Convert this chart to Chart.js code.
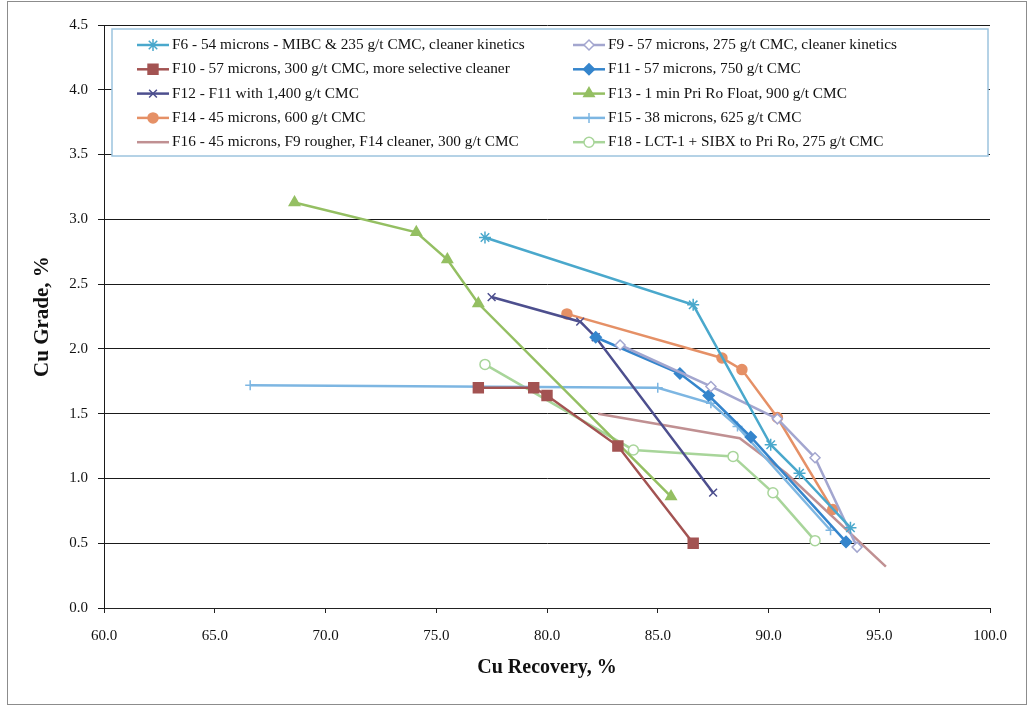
<!DOCTYPE html>
<html>
<head>
<meta charset="utf-8">
<script src="https://cdn.jsdelivr.net/npm/chart.js@4"></script>
<style>
  html, body { margin: 0; padding: 0; background: #fff; }
  #grafico { display: block; }
</style>
</head>
<body>
<canvas id="grafico" width="1032" height="708"></canvas>
<script>
// tick values
const recoveryTicks = [60, 65, 70, 75, 80, 85, 90, 95, 100];
const gradeTicks = [0, 0.5, 1, 1.5, 2, 2.5, 3, 3.5, 4, 4.5];

// flotation tests: Cu recovery (%) vs Cu grade (%)
const testNames = [
  "F6 - 54 microns - MIBC & 235 g/t CMC, cleaner kinetics",
  "F9 - 57 microns, 275 g/t CMC, cleaner kinetics",
  "F10 - 57 microns, 300 g/t CMC, more selective cleaner",
  "F11 - 57 microns, 750 g/t CMC",
  "F12 - F11 with 1,400 g/t CMC",
  "F13 - 1 min Pri Ro Float, 900 g/t CMC",
  "F14 - 45 microns, 600 g/t CMC",
  "F15 - 38 microns, 625 g/t CMC",
  "F16 - 45 microns, F9 rougher, F14 cleaner, 300 g/t CMC",
  "F18 - LCT-1 + SIBX to Pri Ro, 275 g/t CMC"
];

const f6Recovery = [77.2, 86.6, 90.1, 91.4, 93.7];
const f6Grade = [2.86, 2.34, 1.26, 1.04, 0.62];
const f9Recovery = [83.3, 87.4, 90.4, 92.1, 94.0];
const f9Grade = [2.03, 1.71, 1.46, 1.16, 0.47];
const f10Recovery = [76.9, 79.4, 80.0, 83.2, 86.6];
const f10Grade = [1.70, 1.70, 1.64, 1.25, 0.50];
const f11Recovery = [82.2, 86.0, 87.3, 89.2, 93.5];
const f11Grade = [2.09, 1.81, 1.64, 1.32, 0.51];
const f12Recovery = [77.5, 81.5, 82.2, 87.5];
const f12Grade = [2.40, 2.21, 2.09, 0.89];
const f13Recovery = [68.6, 74.1, 75.5, 76.9, 85.6];
const f13Grade = [3.13, 2.90, 2.69, 2.35, 0.86];
const f14Recovery = [80.9, 87.9, 88.8, 90.4, 92.9];
const f14Grade = [2.27, 1.93, 1.84, 1.47, 0.76];
const f15Recovery = [66.6, 85.0, 87.4, 88.6, 92.8];
const f15Grade = [1.72, 1.70, 1.58, 1.40, 0.60];
const f16Recovery = [82.3, 88.7, 90.8, 95.3];
const f16Grade = [1.50, 1.31, 1.04, 0.32];
const f18Recovery = [77.2, 83.9, 88.4, 90.2, 92.1];
const f18Grade = [1.88, 1.22, 1.17, 0.89, 0.52];

const serif = "'Liberation Serif', 'Times New Roman', serif";

function pontos(rec, grade) {
  return rec.map((r, i) => ({ x: r, y: grade[i] }));
}

function serie(i, rec, grade, cor, estilo, raio, fill) {
  return {
    label: testNames[i],
    data: pontos(rec, grade),
    showLine: true,
    borderColor: cor,
    backgroundColor: cor,
    borderWidth: 2.5,
    tension: 0,
    pointStyle: estilo,
    pointRadius: raio,
    pointHoverRadius: raio,
    pointBackgroundColor: fill || cor,
    pointBorderColor: cor,
    pointBorderWidth: 1.5
  };
}

const datasets = [
  serie(0, f6Recovery, f6Grade, "#4AA8CC", "star", 6),
  serie(1, f9Recovery, f9Grade, "#A3A6CF", "rectRot", 5, "#fff"),
  serie(2, f10Recovery, f10Grade, "#A35352", "rect", 7),
  serie(3, f11Recovery, f11Grade, "#3585CC", "rectRot", 5.5),
  serie(4, f12Recovery, f12Grade, "#4D4F8E", "crossRot", 5.5),
  serie(5, f13Recovery, f13Grade, "#94BF62", "triangle", 6),
  serie(6, f14Recovery, f14Grade, "#E59066", "circle", 5),
  serie(7, f15Recovery, f15Grade, "#7DB6E2", "cross", 5),
  serie(8, f16Recovery, f16Grade, "#C09092", "circle", 0),
  serie(9, f18Recovery, f18Grade, "#A8D59A", "circle", 5, "#fff")
];

// legend box drawn over the top of the plot area
const legendaInterna = {
  id: "legendaInterna",
  afterDatasetsDraw(chart) {
    const ctx = chart.ctx;
    const box = { x: 112, y: 29, w: 876, h: 127 };
    ctx.save();
    ctx.fillStyle = "#fff";
    ctx.fillRect(box.x, box.y, box.w, box.h);
    ctx.strokeStyle = "#9CC3DE";
    ctx.lineWidth = 1.5;
    ctx.strokeRect(box.x, box.y, box.w, box.h);

    const colX = [137, 573];
    const sampleW = 32;
    ctx.font = "15.3px " + serif;
    ctx.textBaseline = "middle";
    chart.data.datasets.forEach((ds, i) => {
      const x = colX[i % 2];
      const y = 45 + Math.floor(i / 2) * 24.3;
      ctx.strokeStyle = ds.borderColor;
      ctx.lineWidth = 2.5;
      ctx.beginPath();
      ctx.moveTo(x, y);
      ctx.lineTo(x + sampleW, y);
      ctx.stroke();
      if (ds.pointRadius > 0) {
        ctx.fillStyle = ds.pointBackgroundColor;
        ctx.strokeStyle = ds.pointBorderColor;
        ctx.lineWidth = ds.pointBorderWidth;
        Chart.helpers.drawPoint(ctx, {
          pointStyle: ds.pointStyle,
          radius: ds.pointRadius,
          rotation: 0,
          borderWidth: ds.pointBorderWidth
        }, x + sampleW / 2, y);
      }
      ctx.fillStyle = "#111";
      ctx.fillText(ds.label, x + sampleW + 3, y);
    });
    ctx.restore();
  }
};

// thin frame round the whole figure
const moldura = {
  id: "moldura",
  beforeDraw(chart) {
    const ctx = chart.ctx;
    ctx.save();
    ctx.fillStyle = "#fff";
    ctx.fillRect(0, 0, chart.width, chart.height);
    ctx.strokeStyle = "#8c8c8c";
    ctx.lineWidth = 1;
    ctx.strokeRect(7.5, 1.5, 1019, 703);
    ctx.restore();
  }
};

new Chart(document.getElementById("grafico"), {
  type: "scatter",
  data: { datasets },
  plugins: [moldura, legendaInterna],
  options: {
    responsive: false,
    animation: false,
    layout: { padding: { left: 0, top: 25, right: 42, bottom: 0 } },
    plugins: {
      legend: { display: false },
      tooltip: { enabled: false }
    },
    scales: {
      x: {
        type: "linear",
        min: 60,
        max: 100,
        afterFit: s => { s.height = 100; },
        afterBuildTicks: s => { s.ticks = recoveryTicks.map(v => ({ value: v })); },
        ticks: {
          autoSkip: false,
          maxRotation: 0,
          padding: 14,
          color: "#111",
          font: { family: serif, size: 15 },
          callback: v => v.toFixed(1)
        },
        grid: { drawOnChartArea: false, drawTicks: true, tickLength: 5, color: "#222" },
        border: { display: true, color: "#222", width: 1 },
        title: {
          display: true,
          text: "Cu Recovery, %",
          color: "#111",
          font: { family: serif, size: 20, weight: "bold" },
          padding: { top: 28, bottom: 28 }
        }
      },
      y: {
        type: "linear",
        min: 0,
        max: 4.5,
        afterFit: s => { s.width = 104; },
        afterBuildTicks: s => { s.ticks = gradeTicks.map(v => ({ value: v })); },
        ticks: {
          padding: 10,
          color: "#111",
          font: { family: serif, size: 15 },
          callback: v => v.toFixed(1)
        },
        grid: { drawOnChartArea: true, drawTicks: true, tickLength: 6, color: "#1a1a1a", lineWidth: 1 },
        border: { display: true, color: "#1a1a1a", width: 1 },
        title: {
          display: true,
          text: "Cu Grade, %",
          color: "#111",
          font: { family: serif, size: 21, weight: "bold" },
          padding: { top: 30, bottom: 0 }
        }
      }
    }
  }
});
</script>
</body>
</html>
